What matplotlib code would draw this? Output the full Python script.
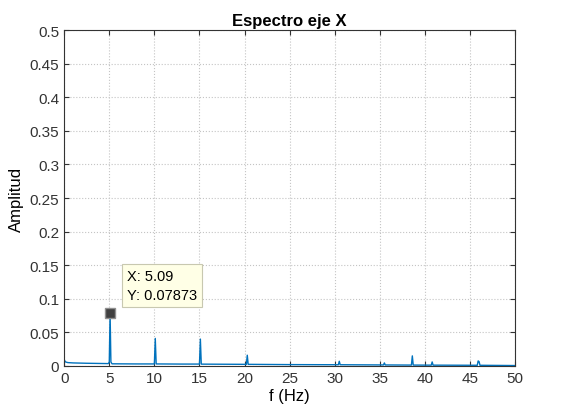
import numpy as np
import matplotlib.pyplot as plt

plt.rcParams['font.family'] = ['Liberation Sans', 'DejaVu Sans']

# Spectrum: baseline points plus narrow spikes
freq = [0.0, 0.05, 0.15, 0.4, 1.0, 2.5, 4.9, 5.0, 5.09, 5.18, 5.3, 8.0,
        10.0, 10.1, 10.2, 13.0, 15.0, 15.1, 15.2, 20.2, 20.3, 20.4, 25.0,
        30.4, 30.5, 30.6, 35.4, 35.5, 35.6, 38.5, 38.6, 38.7, 40.7, 40.8,
        40.9, 45.8, 45.9, 46.0, 46.1, 50.0]
amp = [0.010, 0.008, 0.006, 0.005, 0.0045, 0.004, 0.0035, 0.006, 0.07873, 0.006,
       0.0032, 0.003, 0.003, 0.041, 0.003, 0.0028, 0.0028, 0.040, 0.0027,
       0.0024, 0.016, 0.0024, 0.002, 0.0018, 0.007, 0.0018, 0.0015, 0.0045,
       0.0015, 0.0013, 0.015, 0.0013, 0.0012, 0.006, 0.0012, 0.001, 0.0075,
       0.0065, 0.001, 0.0006]

peak_f = 5.09
peak_a = 0.07873

fig, ax = plt.subplots(figsize=(5.63, 4.10), dpi=100)
fig.subplots_adjust(left=0.114, right=0.915, top=0.924, bottom=0.105)

ax.plot(freq, amp, color='#0072BD', linewidth=1.0)
ax.plot(peak_f, peak_a, marker='s', markersize=7, color='#404040',
        markeredgecolor='#909090')
ax.annotate(f'X: {peak_f}\nY: {peak_a}', xy=(peak_f, peak_a),
            xytext=(12, 8), textcoords='offset points', fontsize=10.5,
            va='bottom', ha='left', linespacing=1.45,
            bbox=dict(boxstyle='square,pad=0.35', fc='#ffffe6', ec='#c8c8b0', lw=0.8))

ax.set_xlim(0, 50)
ax.set_ylim(0, 0.5)
ax.set_xticks(np.arange(0, 51, 5))
ax.set_yticks(np.arange(0, 0.51, 0.05))
ax.set_yticklabels(['0', '0.05', '0.1', '0.15', '0.2', '0.25', '0.3', '0.35',
                    '0.4', '0.45', '0.5'])
ax.tick_params(direction='in', labelsize=11, colors='#333333', top=True, right=True)
ax.grid(True, linestyle=':', color='#c4c4c4', linewidth=0.8)
for s in ax.spines.values():
    s.set_color('#333333')
    s.set_linewidth(0.8)

ax.set_title('Espectro eje X', fontsize=12, fontweight='bold', pad=4)
ax.set_xlabel('f (Hz)', fontsize=12, labelpad=2)
ax.set_ylabel('Amplitud', fontsize=12)

fig.savefig('out.png')
